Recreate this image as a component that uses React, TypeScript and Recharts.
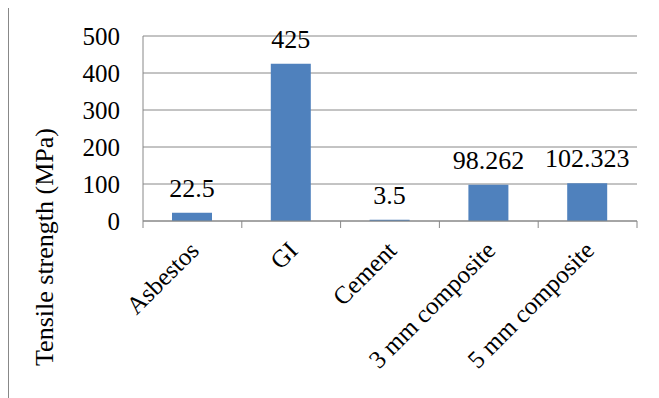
import React from "react";
import { BarChart, Bar, XAxis, YAxis, CartesianGrid, LabelList, Label } from "recharts";

// materials on the x axis and their tensile strength (MPa)
const materials = ["Asbestos", "GI", "Cement", "3 mm composite", "5 mm composite"];
const strength = [22.5, 425, 3.5, 98.262, 102.323];
const yTicks = [0, 100, 200, 300, 400, 500];

const data = materials.map((name, i) => ({ name, value: strength[i] }));

const W = 651;
const H = 390;
const M = { top: 28, right: 22, bottom: 0, left: 0 };
const Y_W = 135;
const X_H = 177;
const BAND = (W - M.left - M.right - Y_W) / materials.length;

const FONT = "Liberation Serif";
const GRID = "#888888";

// category label rotated -45deg, with Excel-style tick marks on the band edges
const MaterialTick = (props: any) => {
  const { x, y, payload, index } = props;
  const tx = x + 8;
  const ty = y + 31;
  return (
    <g>
      <line x1={x - BAND / 2} x2={x - BAND / 2} y1={y} y2={y + 7} stroke={GRID} />
      {index === materials.length - 1 && (
        <line x1={x + BAND / 2} x2={x + BAND / 2} y1={y} y2={y + 7} stroke={GRID} />
      )}
      <text
        x={tx}
        y={ty}
        textAnchor="end"
        transform={`rotate(-45, ${tx}, ${ty})`}
        fontFamily={FONT}
        fontSize={25}
        fill="#000"
      >
        {payload.value}
      </text>
    </g>
  );
};

export default function App() {
  return (
    <div style={{ position: "relative", width: W, height: H }}>
      <div
        style={{
          position: "absolute",
          left: 0,
          top: -1,
          width: W + 10,
          height: H + 10,
          borderLeft: `1px solid ${GRID}`,
          borderTop: `1px solid ${GRID}`,
          boxSizing: "border-box",
        }}
      />
      <BarChart width={W} height={H} data={data} margin={M} barSize={40}>
        <CartesianGrid vertical={false} stroke={GRID} />
        <XAxis
          dataKey="name"
          height={X_H}
          interval={0}
          stroke={GRID}
          tickLine={false}
          tickSize={0}
          tickMargin={0}
          tick={<MaterialTick />}
        />
        <YAxis
          width={Y_W}
          domain={[0, 500]}
          ticks={yTicks}
          stroke={GRID}
          tickLine={false}
          tickSize={0}
          tickMargin={23}
          tick={{ fill: "#000", fontSize: 25, fontFamily: FONT }}
        >
          <Label
            content={() => (
              <text
                x={45}
                y={239}
                textAnchor="middle"
                transform="rotate(-90, 45, 239)"
                fontFamily={FONT}
                fontSize={26}
                fill="#000"
              >
                Tensile strength (MPa)
              </text>
            )}
          />
        </YAxis>
        <Bar dataKey="value" fill="#4F81BD" isAnimationActive={false}>
          <LabelList
            dataKey="value"
            position="top"
            offset={16}
            fill="#000"
            fontSize={26}
            fontFamily={FONT}
          />
        </Bar>
      </BarChart>
    </div>
  );
}
